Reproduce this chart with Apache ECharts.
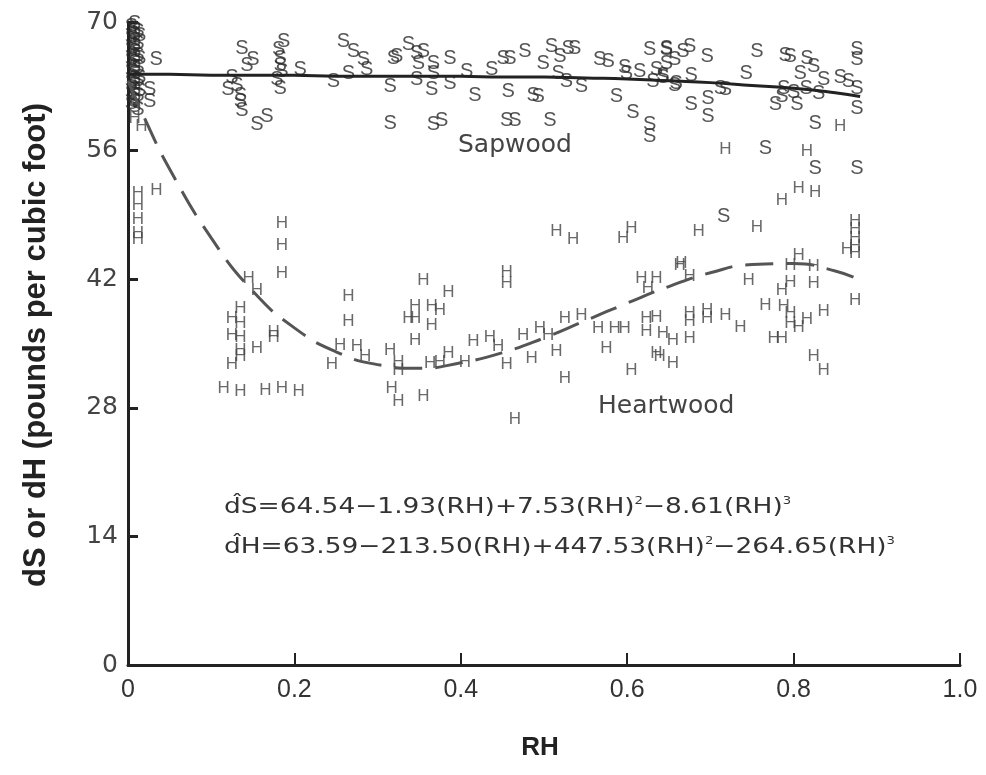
<!DOCTYPE html>
<html>
<head>
<meta charset="utf-8">
<script src="https://cdn.jsdelivr.net/npm/echarts@6/dist/echarts.min.js"></script>
<style>html,body{margin:0;padding:0;background:#fff}#c{width:986px;height:775px}</style>
</head>
<body>
<div id="c"></div>
<script>
// ---------- data ----------
const xTickLabels = ['0', '0.2', '0.4', '0.6', '0.8', '1.0'];
const yTickLabels = ['0', '14', '28', '42', '56', '70'];

const sapwoodPoints = [
  [0.008,69.8],[0.008,69.2],[0.008,68.6],[0.008,68.0],[0.008,67.4],[0.008,66.8],[0.008,66.2],[0.008,65.6],
  [0.008,65.0],[0.008,64.4],[0.008,63.8],[0.008,63.2],[0.008,62.6],[0.008,62.0],[0.008,61.4],[0.008,60.8],
  [0.004,69.5],[0.004,68.3],[0.004,67.1],[0.004,65.9],[0.004,64.7],[0.004,63.5],[0.004,62.3],[0.004,61.1],
  [0.012,69.0],[0.012,67.7],[0.012,66.4],[0.012,65.1],[0.012,63.6],[0.012,62.0],[0.012,60.5],
  [0.014,68.5],[0.014,66.0],[0.014,64.0],[0.014,62.5],
  [0.034,65.9],[0.026,62.6],[0.026,61.3],
  [0.137,67.1],[0.150,65.9],[0.143,65.3],[0.120,62.6],[0.131,63.1],[0.135,62.0],[0.135,61.3],[0.137,60.4],
  [0.125,64.0],[0.155,58.8],[0.167,59.7],
  [0.187,67.9],[0.181,67.0],[0.183,66.0],[0.183,65.3],[0.185,64.6],[0.179,63.7],[0.183,62.8],[0.207,64.8],
  [0.247,63.5],[0.259,67.9],[0.271,66.8],[0.283,65.9],[0.287,64.8],[0.265,64.4],
  [0.323,66.2],[0.315,63.0],[0.315,59.0],
  [0.319,66.0],[0.337,67.5],[0.347,66.6],[0.355,66.8],[0.349,65.5],[0.367,65.5],[0.347,63.7],[0.365,62.6],
  [0.387,66.0],[0.387,63.3],[0.367,64.4],[0.407,64.6],[0.417,62.0],[0.437,64.8],[0.451,66.0],[0.459,66.0],
  [0.477,66.8],[0.457,62.4],[0.487,62.0],[0.493,61.9],[0.499,65.5],[0.509,67.3],[0.519,66.2],[0.529,67.1],
  [0.537,67.1],[0.517,64.4],[0.527,63.5],[0.545,63.0],[0.567,65.9],[0.577,65.7],[0.597,65.0],[0.599,64.4],
  [0.615,64.6],[0.627,67.0],[0.647,67.1],[0.635,64.8],[0.643,64.0],[0.631,63.5],[0.659,63.3],
  [0.367,58.8],[0.377,59.3],[0.455,59.3],[0.465,59.3],[0.507,59.3],[0.587,61.9],[0.607,60.1],[0.627,58.8],[0.627,57.5],
  [0.647,67.0],[0.675,67.3],[0.667,66.8],[0.696,66.2],[0.647,65.5],[0.657,65.9],[0.643,64.2],[0.657,63.1],
  [0.677,64.2],[0.712,62.8],[0.718,62.6],[0.677,61.0],[0.697,61.7],[0.697,59.7],[0.756,66.8],[0.743,64.4],
  [0.790,66.4],[0.796,66.2],[0.816,66.0],[0.824,65.2],[0.808,64.4],[0.836,63.7],[0.856,64.0],[0.866,63.5],
  [0.788,62.8],[0.778,61.0],[0.786,61.9],[0.804,61.0],[0.800,62.3],[0.815,62.8],[0.830,62.2],
  [0.876,67.0],[0.876,65.9],[0.876,62.8],[0.876,60.6],[0.826,59.0],[0.766,56.2],[0.826,54.1],[0.876,54.1],[0.716,48.8]
];

const heartwoodPoints = [
  [0.008,59.5],[0.016,58.6],[0.012,51.4],[0.012,50.0],[0.012,48.5],[0.012,47.0],[0.012,46.3],[0.034,51.7],
  [0.185,48.1],[0.185,45.7],[0.185,42.6],[0.145,42.1],[0.155,40.8],[0.265,40.1],[0.265,37.4],
  [0.135,38.8],[0.125,37.7],[0.135,37.2],[0.125,35.9],[0.135,35.7],[0.135,34.3],[0.135,33.6],[0.155,34.5],
  [0.175,35.7],[0.175,36.2],[0.125,32.7],[0.115,30.1],[0.135,29.8],[0.165,29.9],[0.185,30.1],[0.205,29.8],
  [0.255,34.8],[0.245,32.7],[0.275,34.7],[0.285,33.6],[0.317,30.1],
  [0.515,47.2],[0.535,46.3],[0.595,46.4],[0.605,47.5],[0.663,43.5],
  [0.355,41.9],[0.385,40.6],[0.455,42.8],[0.455,41.6],
  [0.345,39.0],[0.337,37.7],[0.345,37.7],[0.365,39.0],[0.375,38.6],[0.365,37.0],[0.345,35.4],[0.315,34.3],
  [0.325,33.0],[0.325,32.1],[0.325,28.7],[0.355,29.2],[0.363,32.8],[0.375,33.0],[0.385,33.9],[0.405,33.0],
  [0.415,35.2],[0.435,35.7],[0.445,34.7],[0.455,32.7],[0.465,26.7],[0.475,35.9],[0.485,33.4],[0.495,36.7],
  [0.505,35.9],[0.515,34.1],[0.525,31.2],[0.525,37.7],[0.545,38.1],[0.565,36.7],[0.575,34.5],[0.585,36.7],
  [0.597,36.7],[0.605,32.1],[0.617,42.1],[0.635,42.1],[0.625,41.0],[0.623,37.7],[0.635,37.9],[0.623,36.3],
  [0.643,36.1],[0.635,33.9],[0.655,32.8],
  [0.718,56.1],[0.856,58.6],[0.816,55.9],[0.806,51.9],[0.826,51.5],[0.786,50.6],
  [0.686,47.2],[0.756,47.7],[0.874,48.3],[0.874,47.4],[0.874,46.5],[0.874,45.6],[0.874,44.8],[0.864,45.2],
  [0.806,44.6],[0.665,43.7],[0.675,42.3],[0.746,41.9],[0.796,43.5],[0.796,41.7],[0.786,40.8],[0.824,43.4],
  [0.824,41.6],[0.874,39.7],[0.675,38.3],[0.675,37.4],[0.696,38.6],[0.696,37.7],[0.718,38.1],[0.736,36.8],
  [0.766,39.2],[0.788,39.0],[0.796,38.3],[0.796,37.2],[0.806,36.8],[0.816,37.6],[0.836,38.5],[0.776,35.6],
  [0.786,35.6],[0.824,33.6],[0.836,32.1],[0.655,35.4],[0.675,35.6],[0.639,33.6]
];

const fitRH      = [0, 0.02, 0.05, 0.1, 0.15, 0.2, 0.25, 0.3, 0.35, 0.4, 0.45, 0.5, 0.55, 0.6, 0.65, 0.7, 0.75, 0.8, 0.85, 0.88];
const sapwoodFit = [64.3, 64.3, 64.3, 64.2, 64.2, 64.2, 64.1, 64.1, 64.1, 64.1, 64.0, 64.0, 63.9, 63.8, 63.6, 63.4, 63.1, 62.8, 62.3, 61.9];
const heartwoodFit = [63.6, 59.5, 54.0, 46.5, 40.7, 36.7, 34.1, 32.7, 32.3, 32.9, 34.0, 35.6, 37.5, 39.4, 41.2, 42.7, 43.6, 43.7, 42.9, 41.9];

// ---------- chart ----------
const chart = echarts.init(document.getElementById('c'), null, {renderer: 'canvas'});
const axisColor = '#222';
const pair = (xs, ys) => xs.map((x, i) => [x, ys[i]]);

const letterSeries = (name, pts, letter, color, size) => ({
  name, type: 'scatter', data: pts, symbol: 'circle', symbolSize: 0.1,
  itemStyle: {color: 'transparent'}, silent: true, z: 2,
  label: {show: true, position: 'inside', formatter: letter, fontSize: size,
          fontFamily: 'Liberation Sans', color: color}
});

chart.setOption({
  animation: false,
  backgroundColor: '#fff',
  grid: {left: 128, right: 26, top: 22, bottom: 110},
  xAxis: {
    type: 'value', min: 0, max: 1, interval: 0.2,
    axisLine: {show: true, onZero: false, lineStyle: {color: axisColor, width: 3}},
    axisTick: {show: true, inside: true, length: 12, lineStyle: {color: axisColor, width: 2}},
    splitLine: {show: false},
    axisLabel: {margin: 13, fontSize: 25, fontFamily: 'Liberation Sans', color: '#333',
      formatter: v => xTickLabels[Math.round(v / 0.2)]}
  },
  yAxis: {
    type: 'value', min: 0, max: 70, interval: 14,
    axisLine: {show: true, onZero: false, lineStyle: {color: axisColor, width: 3}},
    axisTick: {show: true, inside: true, length: 10, lineStyle: {color: axisColor, width: 3}},
    splitLine: {show: false},
    axisLabel: {margin: 10, fontSize: 25, fontFamily: 'DejaVu Sans', color: '#444',
      formatter: v => yTickLabels[Math.round(v / 14)]}
  },
  series: [
    letterSeries('Sapwood', sapwoodPoints, 'S', '#2a2a2a', 20),
    letterSeries('Heartwood', heartwoodPoints, 'H', '#444', 17),
    {type: 'line', data: pair(fitRH, sapwoodFit), showSymbol: false, smooth: true, silent: true, z: 3,
     lineStyle: {color: '#222', width: 3}},
    {type: 'line', data: pair(fitRH, heartwoodFit), showSymbol: false, smooth: true, silent: true, z: 3,
     lineStyle: {color: '#555', width: 3, type: [28, 13]}}
  ],
  graphic: [
    {type: 'text', x: 458, y: 145, silent: true,
     style: {text: 'Sapwood', fontSize: 25, fontFamily: 'DejaVu Sans', fill: '#444', verticalAlign: 'middle'}},
    {type: 'text', x: 598, y: 406, silent: true,
     style: {text: 'Heartwood', fontSize: 25, fontFamily: 'DejaVu Sans', fill: '#444', verticalAlign: 'middle'}},
    {type: 'text', x: 224, y: 507, scaleX: 1.2, silent: true,
     style: {text: 'd\u0302S=64.54\u22121.93(RH)+7.53(RH){s|2}\u22128.61(RH){s|3}',
       fontSize: 22, fontFamily: 'DejaVu Sans', fill: '#333', verticalAlign: 'middle',
       rich: {s: {fontSize: 11, fontFamily: 'DejaVu Sans', fill: '#333', verticalAlign: 'top'}}}},
    {type: 'text', x: 224, y: 547, scaleX: 1.2, silent: true,
     style: {text: 'd\u0302H=63.59\u2212213.50(RH)+447.53(RH){s|2}\u2212264.65(RH){s|3}',
       fontSize: 22, fontFamily: 'DejaVu Sans', fill: '#333', verticalAlign: 'middle',
       rich: {s: {fontSize: 11, fontFamily: 'DejaVu Sans', fill: '#333', verticalAlign: 'top'}}}},
    {type: 'text', x: 36, y: 345, rotation: Math.PI / 2, silent: true,
     style: {text: 'dS or dH (pounds per cubic foot)', fontSize: 31, fontWeight: 'bold',
       fontFamily: 'Liberation Sans', fill: '#222', align: 'center', verticalAlign: 'middle'}},
    {type: 'text', x: 540, y: 748, silent: true,
     style: {text: 'RH', fontSize: 26, fontWeight: 'bold', fontFamily: 'Liberation Sans',
       fill: '#222', align: 'center', verticalAlign: 'middle'}}
  ]
});
</script>
</body>
</html>
